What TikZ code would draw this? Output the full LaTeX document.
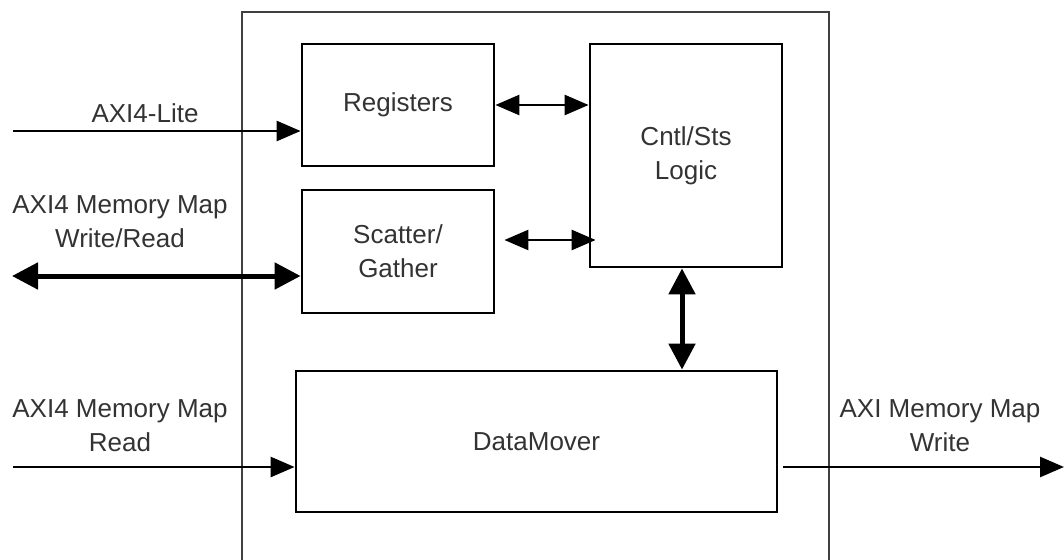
\documentclass[tikz,border=0pt]{standalone}
\usepackage{fontspec}
\setmainfont{Liberation Sans}
\usetikzlibrary{arrows.meta,calc}
\begin{document}
\begin{tikzpicture}[x=1pt,y=-1pt,
  every node/.style={font=\fontsize{26}{34}\selectfont, text=black!80},
  blockbox/.style={draw=black, line width=2.8pt, minimum width=#1, inner sep=0pt, align=center},
  lbl/.style={align=center, inner sep=0pt},
  thin/.style={line width=2.6pt, {Triangle[length=24pt,width=20pt]}-{Triangle[length=24pt,width=20pt]}},
  thinone/.style={line width=2.6pt, -{Triangle[length=24pt,width=20pt]}},
  thick/.style={line width=5pt, {Triangle[length=26pt,width=26pt]}-{Triangle[length=26pt,width=26pt]}}
]
\useasboundingbox (0,0) rectangle (1064,559);
% outer frame (open at bottom)
\draw[line width=1.8pt, black!75] (242,562) -- (242,12) -- (829,12) -- (829,562);

\node[blockbox=192pt, minimum height=122pt] (reg) at (398,105) {Registers};
\node[blockbox=192pt, minimum height=223pt] (cs) at (686,155.5) {Cntl/Sts\\Logic};
\node[blockbox=192pt, minimum height=123pt] (sg) at (398,251.5) {Scatter/\\Gather};
\node[blockbox=481pt, minimum height=141pt] (dm) at (536.5,441.5) {DataMover};

% internal connectors
\draw[thin] (reg.east) -- (reg.east -| cs.west);
\coordinate (sgR) at ($(sg.east)+(9,-11.5)$);
\coordinate (csL) at ($(sgR -| cs.west)+(7,0)$);
\draw[thin] (sgR) -- (csL);
\coordinate (csB) at ($(cs.south)+(-4,0)$);
\draw[thick] (csB) -- (csB |- dm.north);

% left inputs
\coordinate (in1) at (13,131);
\draw[thinone] (in1) -- (in1 -| reg.west);
\node[lbl] (l1) at (145,113) {AXI4-Lite};

\coordinate (in2) at (12,276);
\draw[thick] (in2) -- (in2 -| sg.west);
\node[lbl] (l2) at (120,222) {AXI4 Memory Map\\Write/Read};

\coordinate (in3) at (13,467);
\draw[thinone] (in3) -- (in3 -| dm.west);
\node[lbl] (l3) at (120,426) {AXI4 Memory Map\\Read};

% right output
\coordinate (out) at (1064,467);
\draw[thinone] ($(out -| dm.east)+(5,0)$) -- (out);
\node[lbl] (l4) at (940,426) {AXI Memory Map\\Write};
\end{tikzpicture}
\end{document}
